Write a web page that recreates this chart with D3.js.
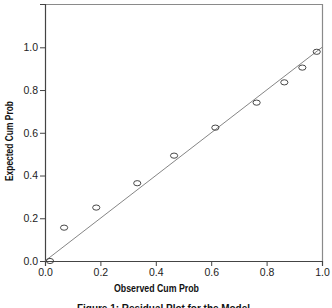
<!DOCTYPE html>
<html><head><meta charset="utf-8">
<script src="https://cdn.jsdelivr.net/npm/d3@7/dist/d3.min.js"></script>
<style>body{margin:0;background:#fff}svg{display:block}</style>
</head><body>
<svg id="c" width="332" height="308"></svg>
<script>
const observed = [0.018, 0.069, 0.185, 0.333, 0.466, 0.615, 0.764, 0.864, 0.929, 0.981];
const expected = [0.000, 0.156, 0.250, 0.364, 0.493, 0.624, 0.741, 0.836, 0.905, 0.979];
const xTicks = [0, 0.2, 0.4, 0.6, 0.8, 1.0];
const yTicks = [0, 0.2, 0.4, 0.6, 0.8, 1.0];
const refLine = [[0, 0], [1, 1]];
const xTitle = "Observed Cum Prob";
const yTitle = "Expected Cum Prob";
const caption = "Figure 1: Residual Plot for the Model";

const svg = d3.select("#c");
const L = 45, R = 322, T = 4, B = 261;
const x = d3.scaleLinear().domain([0, 1]).range([L, R]);
const y = d3.scaleLinear().domain([0, 1]).range([B, B - 213.7]);
const yTop = y.invert(T);

// frame (top and right edges)
const framePts = [[0, yTop], [1, yTop], [1, 0]];
svg.append("path").datum(framePts)
  .attr("d", d3.line().x(d => x(d[0]) + 0.5).y(d => y(d[1]) + 0.5))
  .attr("fill", "none").attr("stroke", "#8a8a8a").attr("stroke-width", 1.2);

const font = "'Liberation Sans', Arial, sans-serif";
const xAxis = svg.append("g").attr("transform", `translate(0,${B})`)
  .call(d3.axisBottom(x).tickValues(xTicks).tickFormat(d3.format(".1f")).tickSizeOuter(0).tickSize(5).tickPadding(3));
const yAxis = svg.append("g").attr("transform", `translate(${L},0)`)
  .call(d3.axisLeft(y.copy().domain([0, yTop]).range([B, T])).tickValues(yTicks).tickFormat(d3.format(".1f")).tickSizeOuter(0).tickSize(5).tickPadding(2));
[xAxis, yAxis].forEach(g => {
  g.select(".domain").attr("stroke", "#444").attr("stroke-width", 1.2);
  g.selectAll(".tick line").attr("stroke", "#444");
  g.selectAll("text").attr("font-family", font).attr("font-size", 10.5).attr("fill", "#222");
});

// reference line
svg.append("path").datum(refLine)
  .attr("d", d3.line().x(d => x(d[0])).y(d => y(d[1])))
  .attr("stroke", "#777").attr("stroke-width", 0.9).attr("fill", "none");

// points
svg.append("g").selectAll("ellipse").data(observed).join("ellipse")
  .attr("cx", d => x(d)).attr("cy", (d, i) => y(expected[i]))
  .attr("rx", 3.6).attr("ry", 2.6)
  .attr("fill", "none").attr("stroke", "#333").attr("stroke-width", 0.9);

// titles
svg.append("text").attr("x", 156.5).attr("y", 292).attr("text-anchor", "middle")
  .attr("font-family", font).attr("font-weight", "bold").attr("font-size", 10)
  .attr("textLength", 85).attr("lengthAdjust", "spacingAndGlyphs").attr("fill", "#111").text(xTitle);
svg.append("text").attr("transform", "translate(13,141) rotate(-90)").attr("text-anchor", "middle")
  .attr("font-family", font).attr("font-weight", "bold").attr("font-size", 10)
  .attr("textLength", 80).attr("lengthAdjust", "spacingAndGlyphs").attr("fill", "#111").text(yTitle);
svg.append("text").attr("x", 163.5).attr("y", 311.5).attr("text-anchor", "middle")
  .attr("font-family", font).attr("font-weight", "bold").attr("font-size", 10.5)
  .attr("textLength", 173).attr("lengthAdjust", "spacingAndGlyphs").attr("fill", "#111").text(caption);
</script>
</body></html>
